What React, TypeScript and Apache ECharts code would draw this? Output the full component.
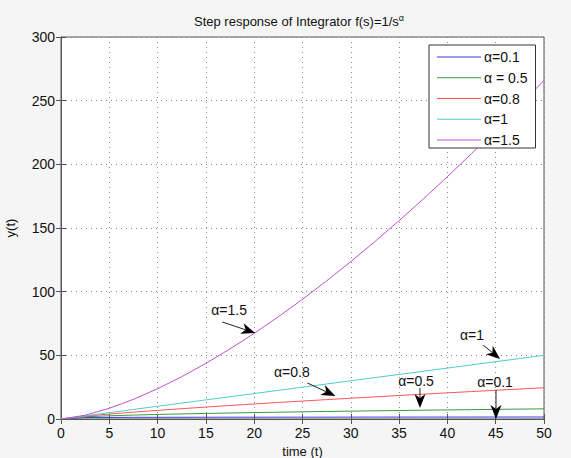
import React, { useEffect, useRef } from "react";
import * as echarts from "echarts";

const T = [0, 2.5, 5, 7.5, 10, 12.5, 15, 17.5, 20, 22.5, 25, 27.5, 30, 32.5, 35, 37.5, 40, 42.5, 45, 47.5, 50];
const A01 = [0, 1.15, 1.23, 1.29, 1.32, 1.35, 1.38, 1.4, 1.42, 1.43, 1.45, 1.46, 1.48, 1.49, 1.5, 1.51, 1.52, 1.53, 1.54, 1.55, 1.55];
const A05 = [0, 1.78, 2.52, 3.09, 3.57, 3.99, 4.37, 4.72, 5.05, 5.35, 5.64, 5.92, 6.18, 6.43, 6.68, 6.91, 7.14, 7.36, 7.57, 7.78, 7.98];
const A08 = [0, 2.23, 3.89, 5.38, 6.77, 8.1, 9.37, 10.6, 11.8, 12.96, 14.1, 15.22, 16.31, 17.39, 18.46, 19.5, 20.54, 21.56, 22.56, 23.56, 24.55];
const A10 = [0, 2.5, 5, 7.5, 10, 12.5, 15, 17.5, 20, 22.5, 25, 27.5, 30, 32.5, 35, 37.5, 40, 42.5, 45, 47.5, 50];
const A15 = [0, 2.97, 8.41, 15.45, 23.79, 33.25, 43.7, 55.07, 67.28, 80.29, 94.03, 108.49, 123.61, 139.38, 155.77, 172.75, 190.31, 208.43, 227.09, 246.27, 265.97];

const NAMES = ["α=0.1", "α = 0.5", "α=0.8", "α=1", "α=1.5"];
const COLORS = ["#3b3bdd", "#3a9a3a", "#ff5555", "#50cccc", "#c050d0"];
const VALUES = [A01, A05, A08, A10, A15];

// annotations: label, text position [t,y], arrow start [t,y], arrow tip [t,y]
const ANNOTATIONS: { text: string; at: number[]; from: number[]; to: number[] }[] = [
  { text: "α=1.5", at: [17.4, 85.6], from: [16.7, 76.2], to: [20.1, 67.5] },
  { text: "α=1", at: [42.55, 66.0], from: [43.7, 58.1], to: [45.45, 47.1] },
  { text: "α=0.8", at: [23.9, 36.9], from: [25.5, 28.3], to: [28.4, 18.1] },
  { text: "α=0.5", at: [36.75, 29.8], from: [37.16, 24.3], to: [37.16, 8.6] },
  { text: "α=0.1", at: [44.93, 29.1], from: [45.03, 22.8], to: [45.03, 0] },
];

const FONT = "'Liberation Sans', Arial, sans-serif";

export default function App() {
  const ref = useRef<HTMLDivElement>(null);
  useEffect(() => {
    document.body.style.margin = "0";
    const chart = echarts.init(ref.current!, null, { renderer: "svg" });
    const gridLine = { show: true, lineStyle: { color: "#8a8a8a", type: [1, 4] as any, width: 1 } };
    const axisCommon = {
      axisLine: { show: true, lineStyle: { color: "#555", width: 1 } },
      axisTick: { show: true, inside: true, length: 5, lineStyle: { color: "#555" } },
    };
    chart.setOption({
      animation: false,
      backgroundColor: "#f5f5f5",
      textStyle: { fontFamily: FONT },
      title: {
        text: "{a|Step response of Integrator f(s)=1/s}{b|α}",
        left: 189,
        top: 8,
        textStyle: {
          fontWeight: "normal",
          rich: {
            a: { fontSize: 13, fontFamily: FONT, color: "#111", fontWeight: "normal" },
            b: { fontSize: 9, fontFamily: FONT, color: "#111", fontWeight: "normal", padding: [0, 0, 8, 0] },
          },
        },
      },
      grid: {
        left: 61,
        right: 27,
        top: 37,
        bottom: 39,
        show: true,
        backgroundColor: "#fff",
        borderColor: "#555",
        containLabel: false,
        outerBoundsMode: "none",
      },
      legend: {
        orient: "vertical",
        left: 429,
        top: 45,
        padding: [5, 8, 1, 8],
        backgroundColor: "#fff",
        borderColor: "#333",
        borderWidth: 1,
        borderRadius: 0,
        icon: "rect",
        itemWidth: 44,
        itemHeight: 1,
        itemGap: 6.75,
        itemStyle: { borderWidth: 0 },
        textStyle: { fontSize: 14, lineHeight: 14, color: "#111", fontFamily: FONT, padding: [0, 0, 0, -2] },
        data: NAMES,
      },
      xAxis: [
        {
          type: "value",
          min: 0,
          max: 50,
          interval: 5,
          name: "time (t)",
          nameLocation: "middle",
          nameGap: 20,
          nameTextStyle: { fontSize: 13, color: "#111", fontFamily: FONT },
          axisLabel: { fontSize: 14, color: "#111", margin: 7, fontFamily: FONT },
          splitLine: gridLine,
          ...axisCommon,
        },
        {
          type: "value",
          position: "top",
          min: 0,
          max: 50,
          interval: 5,
          axisLabel: { show: false },
          splitLine: { show: false },
          ...axisCommon,
        },
      ],
      yAxis: [
        {
          type: "value",
          min: 0,
          max: 300,
          interval: 50,
          name: "y(t)",
          nameLocation: "middle",
          nameGap: 44,
          nameRotate: 90,
          nameTextStyle: { fontSize: 13, color: "#111", fontFamily: FONT },
          axisLabel: { fontSize: 14, color: "#111", margin: 6, fontFamily: FONT },
          splitLine: gridLine,
          ...axisCommon,
        },
        {
          type: "value",
          position: "right",
          min: 0,
          max: 300,
          interval: 50,
          axisLabel: { show: false },
          splitLine: { show: false },
          ...axisCommon,
        },
      ],
      series: NAMES.map((n, i) => ({
        name: n,
        type: "line",
        xAxisIndex: 0,
        yAxisIndex: 0,
        data: T.map((t, k) => [t, VALUES[i][k]]),
        showSymbol: false,
        symbol: "none",
        lineStyle: { color: COLORS[i], width: 1 },
        itemStyle: { color: COLORS[i] },
        z: 3,
      })),
    });

    const toPx = (p: number[]) => chart.convertToPixel({ xAxisIndex: 0, yAxisIndex: 0 }, p) as number[];
    const graphics: any[] = [];
    ANNOTATIONS.forEach((a) => {
      const c = toPx(a.at);
      const f = toPx(a.from);
      const tp = toPx(a.to);
      const dx = tp[0] - f[0];
      const dy = tp[1] - f[1];
      const len = Math.sqrt(dx * dx + dy * dy);
      const ux = dx / len;
      const uy = dy / len;
      const hl = 14;
      const hw = 5.5;
      const bx = tp[0] - ux * hl;
      const by = tp[1] - uy * hl;
      graphics.push({
        type: "text",
        x: c[0],
        y: c[1],
        style: { text: a.text, fontSize: 14, fontFamily: FONT, fill: "#111", align: "center", verticalAlign: "middle" },
        z: 10,
      });
      graphics.push({
        type: "line",
        shape: { x1: f[0], y1: f[1], x2: bx + ux * 4, y2: by + uy * 4 },
        style: { stroke: "#222", lineWidth: 1 },
        z: 10,
      });
      graphics.push({
        type: "polygon",
        shape: {
          points: [
            [tp[0], tp[1]],
            [bx - uy * hw, by + ux * hw],
            [bx + ux * 4, by + uy * 4],
            [bx + uy * hw, by - ux * hw],
          ],
        },
        style: { fill: "#000" },
        z: 10,
      });
    });
    chart.setOption({ graphic: graphics });
    return () => chart.dispose();
  }, []);
  return <div ref={ref} style={{ width: 571, height: 458 }} />;
}
